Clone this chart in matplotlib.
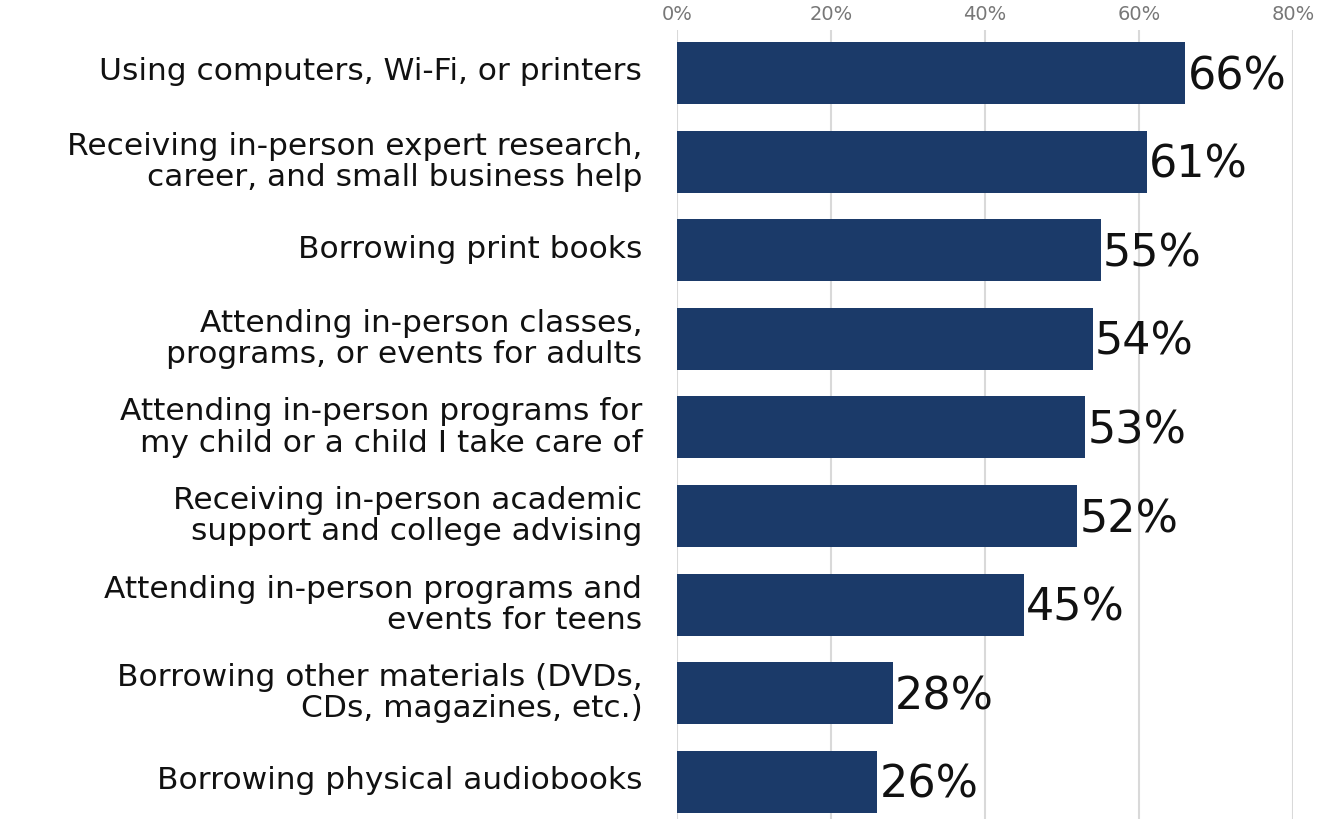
import matplotlib.pyplot as plt
import matplotlib.transforms as mtransforms
import numpy as np

plt.rcParams['font.family'] = ['DejaVu Sans']

categories = [
    "Using computers, Wi-Fi, or printers",
    "Receiving in-person expert research,\ncareer, and small business help",
    "Borrowing print books",
    "Attending in-person classes,\nprograms, or events for adults",
    "Attending in-person programs for\nmy child or a child I take care of",
    "Receiving in-person academic\nsupport and college advising",
    "Attending in-person programs and\nevents for teens",
    "Borrowing other materials (DVDs,\nCDs, magazines, etc.)",
    "Borrowing physical audiobooks",
]
values = [66, 61, 55, 54, 53, 52, 45, 28, 26]
xticks = [0, 20, 40, 60, 80]

BAR_COLOR = "#1b3a69"

fig = plt.figure(figsize=(13.22, 8.19), dpi=100)
ax = fig.add_axes([677 / 1322, 0, (1293 - 677) / 1322, (819 - 30) / 819])

y = np.arange(len(categories))
ax.barh(y, values, height=0.7, color=BAR_COLOR, zorder=3)

for yi, v in zip(y, values):
    ax.text(v + 0.3, yi + 0.04, f"{v}%", va="center", ha="left", fontsize=32,
            color="#111111", zorder=4)

ax.set_xlim(0, 80)
ax.set_ylim(8.42, -0.485)
ax.set_xticks(xticks)
ax.set_xticklabels([f"{t}%" for t in xticks], fontsize=14, color="#777777")
ax.xaxis.tick_top()
ax.tick_params(axis="x", length=0, pad=4)
ax.set_yticks(y)
ax.set_yticklabels(categories, fontsize=22.5, color="#111111", linespacing=1.1)
ax.tick_params(axis="y", length=0, pad=25)

# nudge category labels up a few pixels
shift = mtransforms.ScaledTranslation(0, 4 / 100, fig.dpi_scale_trans)
for lbl in ax.get_yticklabels():
    lbl.set_transform(lbl.get_transform() + shift)

ax.grid(axis="x", color="#d9d9d9", linewidth=1.5, zorder=0)
for s in ax.spines.values():
    s.set_visible(False)

fig.savefig("out.png", dpi=100)
